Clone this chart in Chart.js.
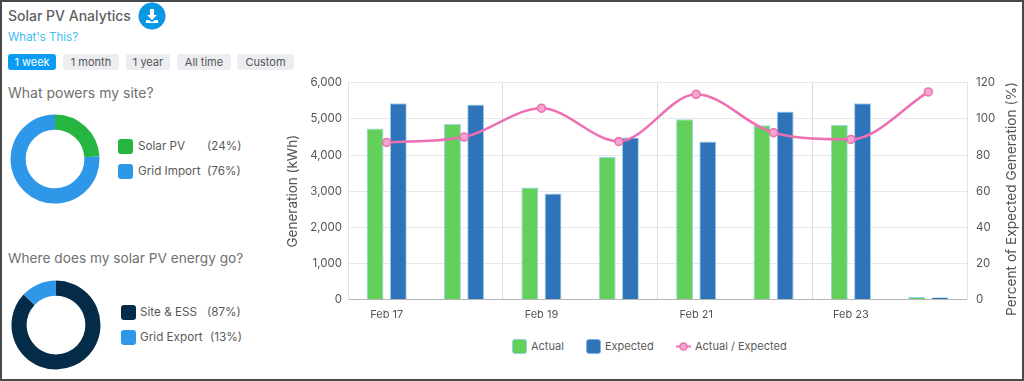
<!DOCTYPE html>
<html><head><meta charset="utf-8">
<script src="https://cdn.jsdelivr.net/npm/chart.js@4"></script>
<style>
html,body{margin:0;padding:0;background:#fff}
body{width:1024px;height:381px;position:relative;overflow:hidden;font-family:Inter,"Open Sans",sans-serif;color:#5a5a5a}
#frame{position:absolute;left:0;top:0;width:1020px;height:377px;border:2px solid #4a4a4a;pointer-events:none}
.t{position:absolute;white-space:nowrap;line-height:1}
canvas{position:absolute}
.btn{position:absolute;top:54px;height:16px;line-height:16px;border-radius:3px;background:#ecedf1;text-align:center;font-size:11px;color:#555}
.sw{position:absolute;width:15px;height:15px;border-radius:3px;box-sizing:border-box}
</style></head><body>
<div class="t" style="left:8px;top:9px;font-size:14px;font-weight:500;color:#5f5f5f">Solar PV Analytics</div>
<svg style="position:absolute;left:138px;top:2px" width="28" height="28" viewBox="0 0 28 28"><circle cx="14" cy="14" r="13.5" fill="#0a97e4"/><path d="M12 7h4v6h3l-5 5-5-5h3zM8 18h3l3 2 3-2h3v3H8z" fill="#fff"/></svg>
<div class="t" style="left:8px;top:32px;font-size:11.5px;color:#3cbcf5">What's This?</div>
<div class="btn" style="left:8px;width:48px;background:#0a9cf5;color:#fff">1 week</div>
<div class="btn" style="left:63px;width:56px">1 month</div>
<div class="btn" style="left:126px;width:44px">1 year</div>
<div class="btn" style="left:177px;width:54px">All time</div>
<div class="btn" style="left:237px;width:57px">Custom</div>
<div class="t" style="left:8px;top:86px;font-size:14px;color:#707070">What powers my site?</div>
<canvas id="d1" style="left:4.5px;top:110px" width="100" height="98"></canvas>
<div class="sw" style="left:118px;top:139px;background:#25b540"></div><div class="t" style="left:138px;top:141px;font-size:11.7px">Solar PV</div><div class="t" style="left:207px;top:141px;font-size:11.7px">(24%)</div>
<div class="sw" style="left:118px;top:164px;background:#2f97e8"></div><div class="t" style="left:138px;top:166px;font-size:11.7px">Grid Import</div><div class="t" style="left:207px;top:166px;font-size:11.7px">(76%)</div>
<div class="t" style="left:8px;top:252px;font-size:13.7px;color:#707070">Where does my solar PV energy go?</div>
<canvas id="d2" style="left:6px;top:276px" width="100" height="98"></canvas>
<div class="sw" style="left:121px;top:305px;background:#042b47"></div><div class="t" style="left:140px;top:307px;font-size:11.7px">Site &amp; ESS</div><div class="t" style="left:207px;top:307px;font-size:11.7px">(87%)</div>
<div class="sw" style="left:121px;top:330px;background:#2f97e8"></div><div class="t" style="left:140px;top:332px;font-size:11.7px">Grid Export</div><div class="t" style="left:210px;top:332px;font-size:11.7px">(13%)</div>
<canvas id="main" style="left:280px;top:67px" width="740" height="263"></canvas>
<div class="t" style="left:1012px;top:199px;font-size:13.7px;color:#555;transform:translate(-50%,-50%) rotate(-90deg)">Percent of Expected Generation (%)</div>
<div class="sw" style="left:511.5px;top:339px;background:#62d05a;border:1px solid #8fd3d8"></div><div class="t" style="left:531px;top:341px;font-size:11px">Actual</div>
<div class="sw" style="left:586px;top:339px;background:#2f73b8;border:1px solid #7fb4e4"></div><div class="t" style="left:605px;top:341px;font-size:11px">Expected</div>
<svg style="position:absolute;left:675px;top:339px" width="17" height="15"><line x1="1" y1="7.5" x2="16" y2="7.5" stroke="#ee6fb2" stroke-width="2"/><circle cx="8.5" cy="7.5" r="3.6" fill="#f4a6cf" stroke="#ee6fb2" stroke-width="1.5"/></svg><div class="t" style="left:695px;top:341px;font-size:11px">Actual / Expected</div>
<div id="frame"></div>
<script>
const categories=["Feb 17","Feb 18","Feb 19","Feb 20","Feb 21","Feb 22","Feb 23","Feb 24"];
const actual=[4740,4870,3100,3950,4995,4830,4840,70];
const expected=[5437,5400,2935,4490,4380,5207,5437,65];
const ratio=[87,90,106,87.6,113.7,92.4,88.7,115];
const siteLabels=["Solar PV","Grid Import"];
const siteValues=[24,76];
const goLabels=["Site & ESS","Grid Export"];
const goValues=[87,13];
Chart.defaults.font.family='Inter,"Open Sans",sans-serif';
Chart.defaults.animation=false;
const dn=(id,labels,data,colors)=>new Chart(document.getElementById(id),{type:'doughnut',data:{labels,datasets:[{data,backgroundColor:colors,borderWidth:0}]},options:{responsive:false,cutout:'66%',layout:{padding:{left:5,right:5,top:4.5,bottom:4.5}},plugins:{legend:{display:false},tooltip:{enabled:false}}}});
dn('d1',siteLabels,siteValues,['#25b540','#2f97e8']);
dn('d2',goLabels,goValues,['#042b47','#2f97e8']);
new Chart(document.getElementById('main'),{
 data:{labels:categories,datasets:[
  {type:'line',label:'Actual / Expected',data:ratio,yAxisID:'y1',order:0,borderColor:'#ee6fb2',backgroundColor:'#f4a6cf',borderWidth:2.5,pointRadius:4,pointBorderWidth:1.5,pointBorderColor:'#ee6fb2',pointBackgroundColor:'#f4a6cf',cubicInterpolationMode:'monotone'},
  {type:'bar',label:'Actual',data:actual,yAxisID:'y',order:1,backgroundColor:'#62d05a',borderColor:'#9fd3ee',borderWidth:1,categoryPercentage:0.6,barPercentage:0.73},
  {type:'bar',label:'Expected',data:expected,yAxisID:'y',order:1,backgroundColor:'#2f73b8',borderColor:'#9fd3ee',borderWidth:1,categoryPercentage:0.6,barPercentage:0.73}
 ]},
 options:{responsive:false,layout:{padding:{top:6,left:0,right:0,bottom:0}},
  plugins:{legend:{display:false},tooltip:{enabled:false}},
  scales:{
   x:{grid:{display:false,drawTicks:false},border:{color:'#b5b5b5'},afterFit(a){a.height=30.5},
      ticks:{autoSkip:true,maxTicksLimit:4,maxRotation:0,color:'#555',font:{size:11},padding:9}},
   x2:{type:'linear',position:'bottom',min:0,max:8,afterFit(a){a.height=0},
      ticks:{display:false,stepSize:2},grid:{color:'#dcdcdc',tickLength:0},border:{display:false}},
   y:{position:'left',min:0,max:6000,afterFit(a){a.width=68},
      ticks:{stepSize:1000,color:'#555',font:{size:11.5},padding:6,callback:v=>v.toLocaleString('en-US')},
      grid:{color:'#e8e8e8',tickLength:0},border:{color:'#e4e4e4'},
      title:{display:true,text:'Generation (kWh)',color:'#555',font:{size:13.5},padding:{top:5,bottom:2}}},
   y1:{position:'right',min:0,max:120,afterFit(a){a.width=53},
      ticks:{stepSize:20,color:'#555',font:{size:11.5},padding:9},
      grid:{drawOnChartArea:false,tickLength:0},border:{color:'#e4e4e4'}}
  }}
});
</script>
</body></html>
